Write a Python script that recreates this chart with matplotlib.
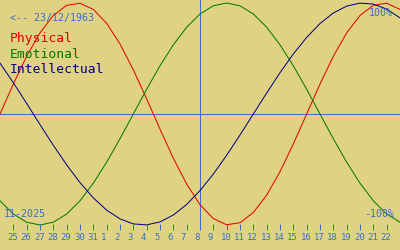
import matplotlib
matplotlib.use("Agg")
import matplotlib.pyplot as plt
import matplotlib.transforms as mtransforms

# days shown on the axis (25 Oct .. 22 Nov 2025), curves run one day past each end
day_labels = ["25", "26", "27", "28", "29", "30", "31", "1", "2", "3", "4", "5",
              "6", "7", "8", "9", "10", "11", "12", "13", "14", "15", "16", "17",
              "18", "19", "20", "21", "22"]
day_index = list(range(-1, 30))  # 24 Oct .. 23 Nov
today_index = 14  # 8 Nov

physical = [0.0, 0.27, 0.52, 0.731, 0.888, 0.979, 0.998, 0.942, 0.817, 0.631,
            0.398, 0.136, -0.136, -0.398, -0.631, -0.817, -0.942, -0.998,
            -0.979, -0.888, -0.731, -0.52, -0.27, 0.0, 0.27, 0.52, 0.731,
            0.888, 0.979, 0.998, 0.942]
emotional = [-0.782, -0.901, -0.975, -1.0, -0.975, -0.901, -0.782, -0.623,
             -0.434, -0.223, 0.0, 0.223, 0.434, 0.623, 0.782, 0.901, 0.975,
             1.0, 0.975, 0.901, 0.782, 0.623, 0.434, 0.223, 0.0, -0.223,
             -0.434, -0.623, -0.782, -0.901, -0.975]
intellectual = [0.458, 0.282, 0.095, -0.095, -0.282, -0.458, -0.618, -0.756,
                -0.866, -0.945, -0.99, -0.999, -0.972, -0.91, -0.815, -0.69,
                -0.541, -0.372, -0.189, 0.0, 0.189, 0.372, 0.541, 0.69, 0.815,
                0.91, 0.972, 0.999, 0.99, 0.945, 0.866]

birth_label = "<-- 23/12/1963"
month_label = "11-2025"

BG = "#e0d283"
BLUE = "#3a70c4"
RED = "#e00000"
GREEN = "#007800"
NAVY = "#000080"
MONO = "DejaVu Sans Mono"

def px(p):
    # pixel size -> points at dpi 100
    return p * 0.72

fig = plt.figure(figsize=(4, 2.5), dpi=100, facecolor=BG)
# axes spans the full width and the top 230 px
ax = fig.add_axes([0, 20 / 250, 1, 230 / 250])
ax.set_facecolor(BG)
for s in ax.spines.values():
    s.set_visible(False)

ax.set_xlim(-1, 29)
ax.set_ylim(-1.045, 1.027)

ax.axhline(0, color=BLUE, lw=px(1))
ax.axvline(today_index, color=BLUE, lw=px(1))

ax.plot(day_index, physical, color=RED, lw=px(1))
ax.plot(day_index, emotional, color=GREEN, lw=px(1))
ax.plot(day_index, intellectual, color=NAVY, lw=px(1))

# day ticks: short blue marks just above the labels
ticks = list(range(len(day_labels)))
ax.vlines(ticks, 0, 6 / 230, transform=ax.get_xaxis_transform(),
          color=BLUE, lw=px(1), clip_on=False)

ax.set_yticks([])
ax.set_xticks(ticks)
ax.set_xticklabels(day_labels, ha="left", family=MONO, fontsize=px(9), color=BLUE)
ax.tick_params(axis="x", length=0, pad=px(3.5))
shift = mtransforms.ScaledTranslation(-6 / 100, 0, fig.dpi_scale_trans)
for lab in ax.get_xticklabels():
    lab.set_transform(lab.get_transform() + shift)

def ftext(x, y, s, size, color, ha="left"):
    fig.text(x / 400, 1 - y / 250, s, fontsize=px(size), color=color,
             family=MONO, ha=ha, va="baseline")

ftext(10, 21, birth_label, 10, BLUE)
ftext(10, 42, "Physical", 13, RED)
ftext(10, 57.5, "Emotional", 13, GREEN)
ftext(10, 73, "Intellectual", 13, NAVY)
ftext(393, 16, "100%", 10, BLUE, ha="right")
ftext(394, 217, "-100%", 10, BLUE, ha="right")
ftext(4, 217, month_label, 10, BLUE)

fig.savefig("out.png", dpi=100, facecolor=BG)
